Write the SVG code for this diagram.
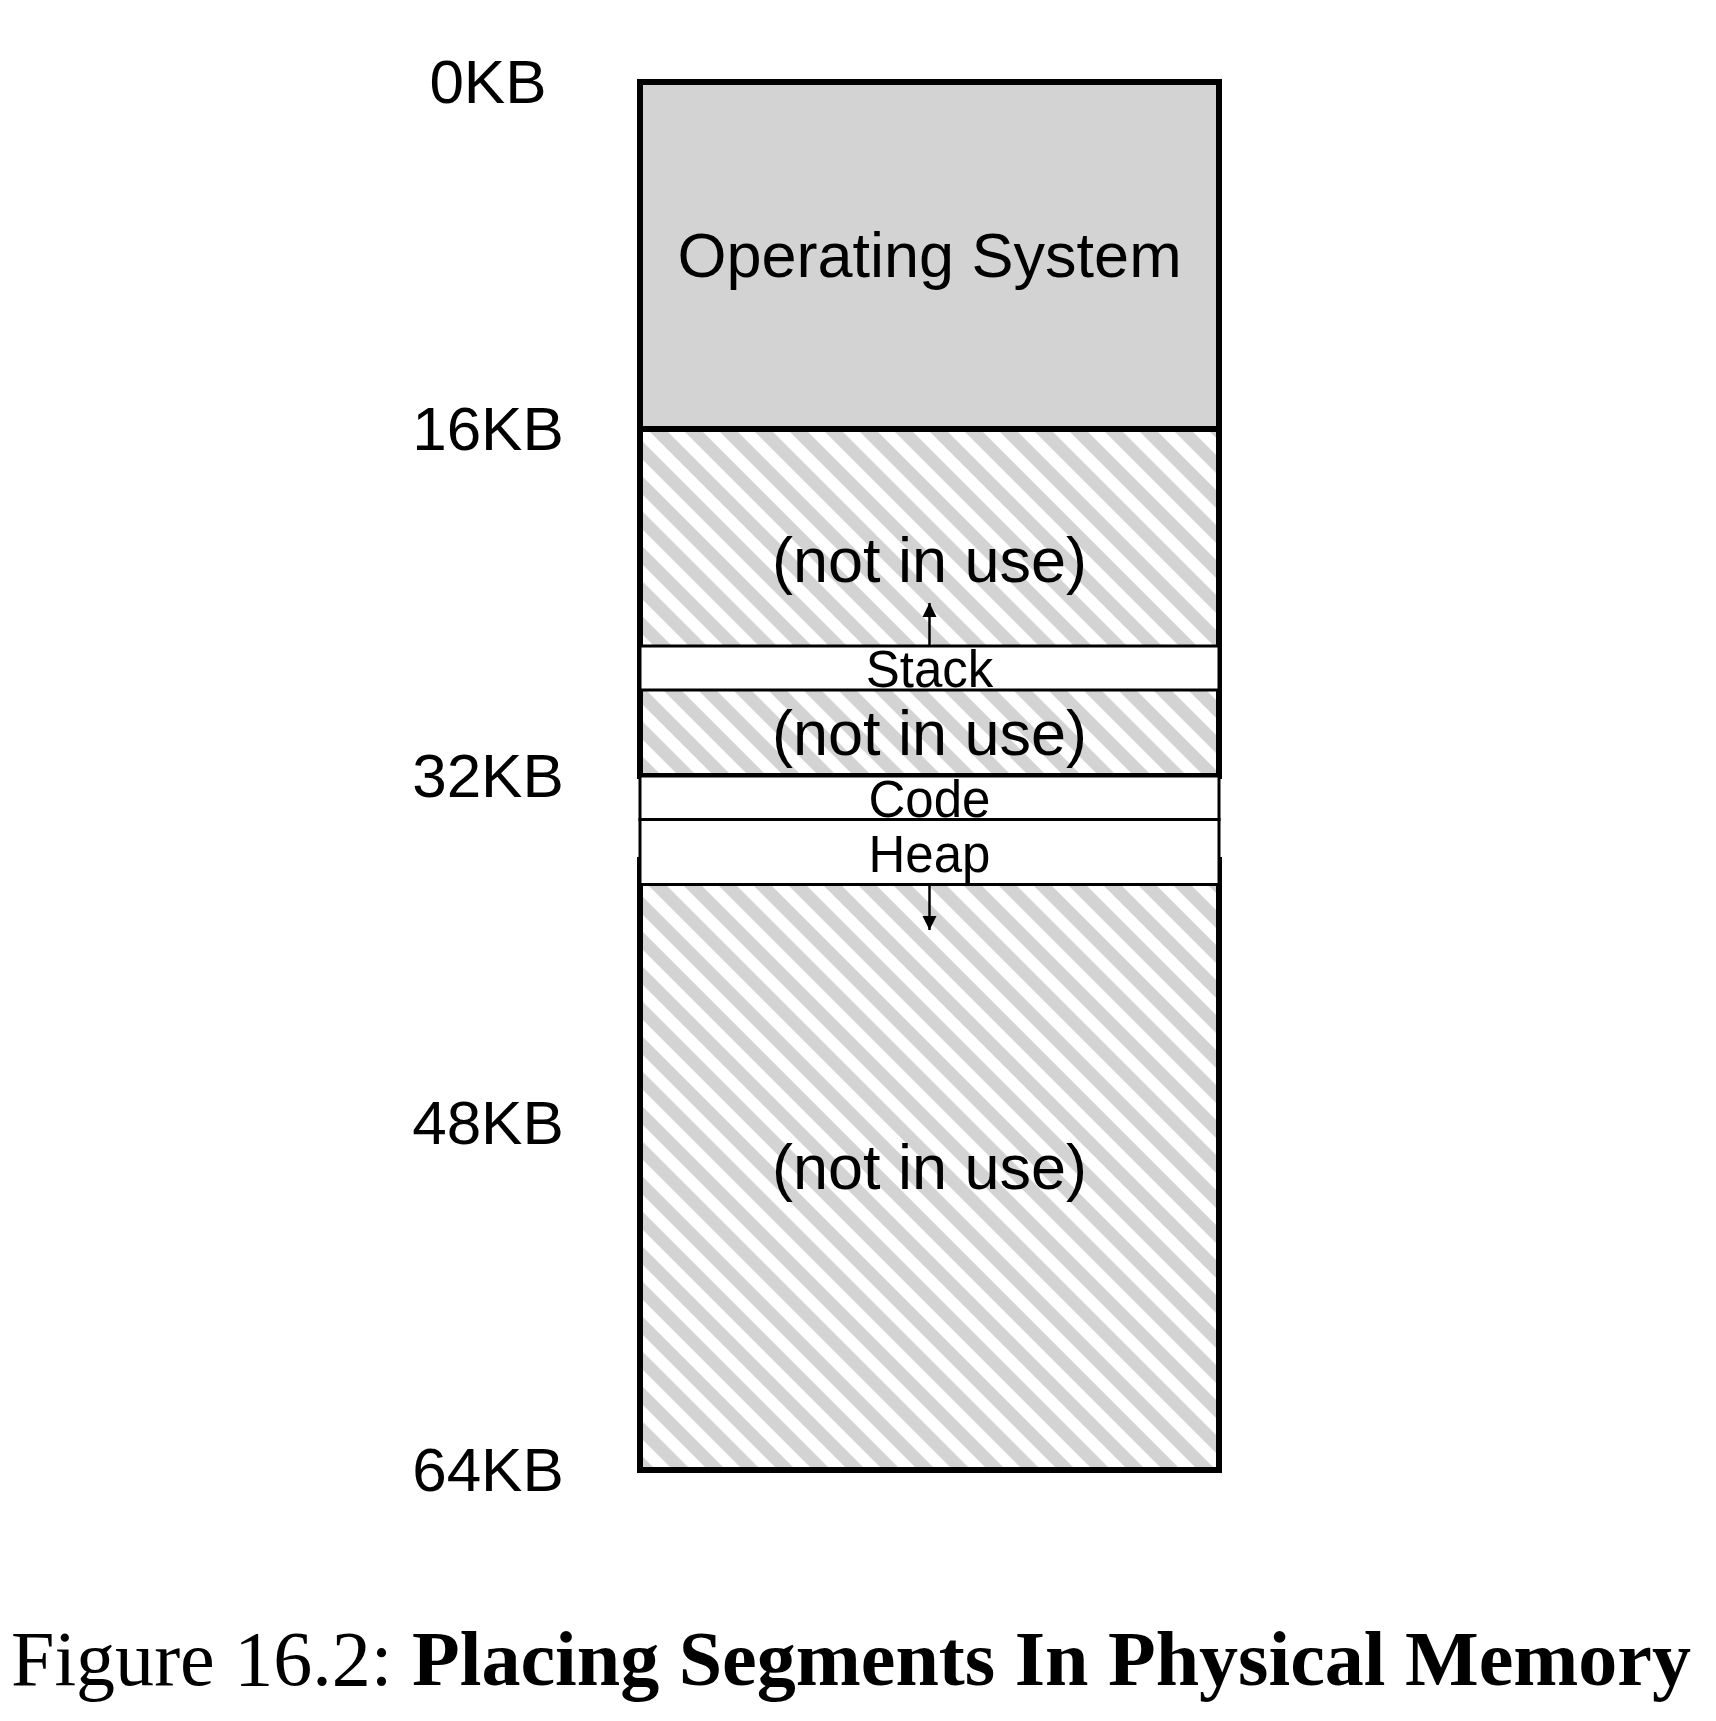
<svg xmlns="http://www.w3.org/2000/svg" width="1716" height="1721" viewBox="0 0 1716 1721">
<defs>
<pattern id="hatch" patternUnits="userSpaceOnUse" width="24.75" height="40" patternTransform="translate(8,0) rotate(-45)">
<rect x="0" y="0" width="24.75" height="40" fill="#ffffff"/>
<rect x="0" y="0" width="12.8" height="40" fill="#d3d3d3"/>
</pattern>
<marker id="ah" viewBox="0 0 14 16" refX="14" refY="8" markerWidth="14" markerHeight="16" markerUnits="userSpaceOnUse" orient="auto">
<path d="M0,1 L14,8 L0,15 Z" fill="#000"/>
</marker>
</defs>
<style>
.thick{stroke:#000;stroke-width:6}
.thin{stroke:#000;stroke-width:3;fill:#fff}
.lbl{font-family:"Liberation Sans",Arial,Helvetica,sans-serif;font-size:62px;fill:#000;text-anchor:middle}
.big{font-family:"Liberation Sans",Arial,Helvetica,sans-serif;font-size:63px;fill:#000;text-anchor:middle}
.seg{font-family:"Liberation Sans",Arial,Helvetica,sans-serif;font-size:51px;fill:#000;text-anchor:middle}
.cap{font-family:"Liberation Serif","Times New Roman",serif;font-size:78px;fill:#000}
.conn{stroke:#000;stroke-width:2.5;fill:none}
</style>
<rect width="1716" height="1721" fill="#fff"/>
<g id="labels">
<text class="lbl" x="488" y="103">0KB</text>
<text class="lbl" x="488" y="450">16KB</text>
<text class="lbl" x="488" y="797">32KB</text>
<text class="lbl" x="488" y="1144">48KB</text>
<text class="lbl" x="488" y="1491">64KB</text>
</g>
<g id="upper-region">
<rect class="thick" x="640" y="82" width="579" height="694" fill="url(#hatch)"/>
</g>
<g id="bottom-free">
<rect class="thick" x="640" y="860" width="579" height="610" fill="url(#hatch)"/>
<text class="big" x="929.5" y="1189">(not in use)</text>
</g>
<g id="os">
<rect class="thick" x="640" y="82" width="579" height="347" fill="#d3d3d3"/>
<text class="big" x="929.5" y="277">Operating System</text>
</g>
<g id="free1">
<text class="big" x="929.5" y="582">(not in use)</text>
</g>
<g id="stack">
<rect class="thin" x="640" y="646" width="579" height="44"/>
<text class="seg" x="929.5" y="687">Stack</text>
</g>
<g id="free2">
<text class="big" x="929.5" y="755">(not in use)</text>
</g>
<g id="code">
<rect class="thin" x="640" y="776" width="579" height="43.5"/>
<text class="seg" x="929.5" y="817">Code</text>
</g>
<g id="heap">
<rect class="thin" x="640" y="819.5" width="579" height="65"/>
<text class="seg" x="929.5" y="872">Heap</text>
</g>
<g id="connectors">
<line class="conn" x1="929.5" y1="645" x2="929.5" y2="603" marker-end="url(#ah)"/>
<line class="conn" x1="929.5" y1="886" x2="929.5" y2="930" marker-end="url(#ah)"/>
</g>
<g id="caption">
<text class="cap" x="11" y="1685" textLength="1680" lengthAdjust="spacingAndGlyphs">Figure 16.2: <tspan font-weight="bold">Placing Segments In Physical Memory</tspan></text>
</g>
</svg>
